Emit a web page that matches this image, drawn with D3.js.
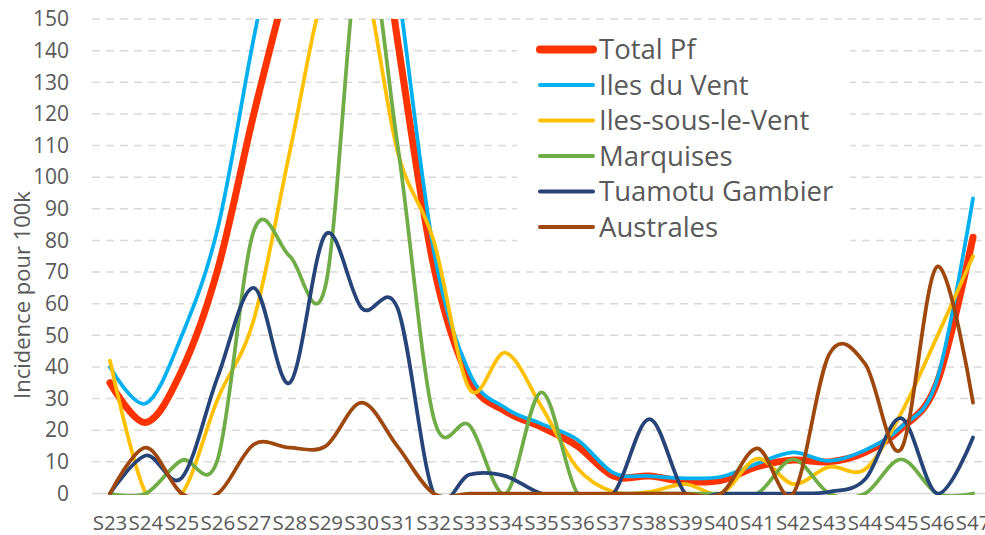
<!DOCTYPE html>
<html>
<head>
<meta charset="utf-8">
<script src="https://cdn.jsdelivr.net/npm/d3@7"></script>
<style>
  html, body { margin: 0; padding: 0; background: #ffffff; }
  svg { display: block; }
  text { font-family: "Open Sans", "Liberation Sans", sans-serif; fill: #595959; }
</style>
</head>
<body>
<svg id="chart" width="985" height="535"></svg>
<script>
// ---------------- data ----------------
const categories = ["S23","S24","S25","S26","S27","S28","S29","S30","S31","S32","S33","S34","S35",
                    "S36","S37","S38","S39","S40","S41","S42","S43","S44","S45","S46","S47"];
const yTicks = [0,10,20,30,40,50,60,70,80,90,100,110,120,130,140,150];
const seriesNames = ["Total Pf","Iles du Vent","Iles-sous-le-Vent","Marquises","Tuamotu Gambier","Australes"];

const totalPf        = [35, 22.5, 39, 71, 120, 165, 210, 220, 143, 72, 36, 26, 21, 15, 5.5, 5.5, 3.8, 4.2, 8.5, 10.6, 10, 13, 20.5, 35, 81];
const ilesDuVent     = [40, 28.5, 50, 84, 144, 198, 230, 240, 161, 77, 38, 27, 22, 17, 6.5, 5.5, 4.8, 5.3, 9.5, 13, 10.3, 13.7, 21, 36, 93.3];
const ilesSousLeVent = [42, 0, 0, 30, 55, 108, 160, 165, 108, 80, 33, 44.5, 27.4, 8, 0.5, 0.5, 3, 0, 11, 3, 8.4, 7.7, 25.3, 49.6, 75];
const marquises      = [0, 0, 10.5, 11, 83, 75, 66, 175, 110, 24, 21.5, 0, 32, 0, 0, 0, 0, 0, 0, 10.8, 0, 0, 10.8, 0, 0];
const tuamotu        = [0, 12, 5, 37, 65, 35, 82, 58.6, 58.5, 0, 6, 5.5, 0, 0, 0, 23.5, 0, 0, 0, 0, 0.5, 4.5, 23.8, 0, 17.7];
const australes      = [0, 14.5, 0, 0, 15.5, 14.5, 15, 28.7, 14.8, 0, 0, 0, 0, 0, 0, 0, 0, 0, 14.3, 0, 44, 41, 14, 71.7, 28.7];

const seriesValues = [totalPf, ilesDuVent, ilesSousLeVent, marquises, tuamotu, australes];
const seriesColors = ["#FF3300", "#00B0F0", "#FFC000", "#70AD47", "#264478", "#9E480E"];
const seriesWidths = [7, 3.75, 3.75, 3.75, 3.75, 3.75];

// ---------------- layout ----------------
const svg = d3.select("#chart");
const plot = { left: 92, right: 991, top: 19, bottom: 493.5 };

const x = d3.scaleBand().domain(categories).range([plot.left, plot.right]).paddingInner(0).paddingOuter(0);
const cx = c => x(c) + x.bandwidth() / 2;
const y = d3.scaleLinear().domain([0, 150]).range([plot.bottom, plot.top]);

// gridlines
svg.append("g").selectAll("line")
  .data(yTicks.filter(d => d > 0))
  .join("line")
  .attr("x1", plot.left).attr("x2", plot.right)
  .attr("y1", d => y(d)).attr("y2", d => y(d))
  .attr("stroke", "#D9D9D9").attr("stroke-width", 1.5)
  .attr("stroke-dasharray", "8,6");

// zero line
svg.append("line")
  .attr("x1", plot.left).attr("x2", plot.right)
  .attr("y1", y(0)).attr("y2", y(0))
  .attr("stroke", "#D9D9D9").attr("stroke-width", 1.5);

// y axis
const yAxis = svg.append("g")
  .attr("transform", `translate(${plot.left},0)`)
  .call(d3.axisLeft(y).tickValues(yTicks).tickSize(0).tickPadding(23));
yAxis.select(".domain").remove();
yAxis.selectAll("text")
  .style("font-family", "'Open Sans', sans-serif")
  .style("font-size", "21px").attr("fill", "#595959");

// x axis
const xAxis = svg.append("g")
  .attr("transform", `translate(0,${plot.bottom})`)
  .call(d3.axisBottom(x).tickSize(0).tickPadding(22));
xAxis.select(".domain").remove();
xAxis.selectAll("text")
  .style("font-family", "'Open Sans', sans-serif")
  .style("font-size", "20.5px").attr("fill", "#595959");

// y axis title
svg.append("text")
  .attr("transform", "translate(30,295) rotate(-90)")
  .attr("text-anchor", "middle")
  .style("font-size", "22px")
  .text("Incidence pour 100k");

// clip
svg.append("clipPath").attr("id", "plotclip")
  .append("rect")
  .attr("x", plot.left).attr("y", plot.top)
  .attr("width", plot.right - plot.left).attr("height", plot.bottom - plot.top + 1.5);

const line = d3.line()
  .x((d, i) => cx(categories[i]))
  .y(d => y(d))
  .curve(d3.curveCardinal.tension(0));

const lines = svg.append("g").attr("clip-path", "url(#plotclip)");
seriesValues.forEach((vals, k) => {
  lines.append("path")
    .datum(vals)
    .attr("d", line)
    .attr("fill", "none")
    .attr("stroke", seriesColors[k])
    .attr("stroke-width", seriesWidths[k])
    .attr("stroke-linejoin", "round")
    .attr("stroke-linecap", "round");
});

// legend
const legend = svg.append("g");
legend.append("rect")
  .attr("x", 517).attr("y", 30).attr("width", 333).attr("height", 224)
  .attr("fill", "#ffffff");
const rowY = [49.5, 85, 120.5, 156, 191.5, 227];
seriesNames.forEach((name, k) => {
  legend.append("line")
    .attr("x1", 540).attr("x2", 593)
    .attr("y1", rowY[k]).attr("y2", rowY[k])
    .attr("stroke", seriesColors[k])
    .attr("stroke-width", k === 0 ? 8 : 4)
    .attr("stroke-linecap", "round");
  legend.append("text")
    .attr("x", 599).attr("y", rowY[k] + 9.5)
    .style("font-size", "27.5px")
    .text(name);
});
</script>
</body>
</html>
